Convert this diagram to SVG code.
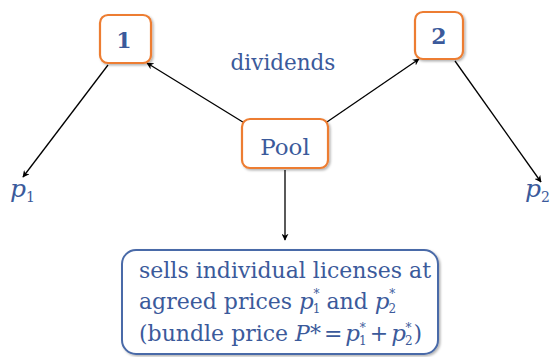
<svg xmlns="http://www.w3.org/2000/svg" width="553" height="357" viewBox="0 0 553 357">
<defs>
<marker id="ah" viewBox="0 0 10 10" refX="9" refY="5" markerWidth="7" markerHeight="7" orient="auto" markerUnits="userSpaceOnUse">
<path d="M0,0 L10,5 L0,10 L3,5 Z" fill="#000"/>
</marker>
<filter id="sh" x="-20%" y="-20%" width="140%" height="140%">
<feDropShadow dx="1.5" dy="1.5" stdDeviation="1.2" flood-color="#000" flood-opacity="0.3"/>
</filter>
</defs>
<style>
.ob{fill:#fff;stroke:#ed7d31;stroke-width:2.2;filter:url(#sh)}
.bb{fill:#fff;stroke:#4a6aa8;stroke-width:2;filter:url(#sh)}
.t{font-family:"DejaVu Serif","Liberation Serif",serif;fill:#3b5a9b}
.c{stroke:#000;stroke-width:1.3;fill:none;marker-end:url(#ah)}
</style>
<rect width="553" height="357" fill="#fff"/>
<g id="connectors">
<line class="c" x1="246" y1="124" x2="147" y2="63"/>
<line class="c" x1="324" y1="124" x2="419" y2="59"/>
<line class="c" x1="108" y1="65" x2="23" y2="177"/>
<line class="c" x1="455" y1="61" x2="541" y2="182"/>
<line class="c" x1="285" y1="170" x2="285" y2="240"/>
</g>
<g id="n1">
<rect class="ob" x="100" y="15" width="51" height="48" rx="8"/>
<text class="t" x="124" y="48" font-size="22" font-weight="bold" text-anchor="middle">1</text>
</g>
<g id="n2">
<rect class="ob" x="415" y="12" width="48" height="47" rx="8"/>
<text class="t" x="439" y="44" font-size="22" font-weight="bold" text-anchor="middle">2</text>
</g>
<g id="pool">
<rect class="ob" x="242" y="119" width="86" height="49" rx="8"/>
<text class="t" x="285" y="155" font-size="23" text-anchor="middle">Pool</text>
</g>
<g id="dividends">
<text class="t" x="283" y="70" font-size="21.5" text-anchor="middle">dividends</text>
</g>
<g id="p1">
<text class="t" x="10" y="197" font-size="25" font-style="italic">p<tspan font-size="14" font-style="normal" dy="5">1</tspan></text>
</g>
<g id="p2">
<text class="t" x="525" y="197" font-size="25" font-style="italic">p<tspan font-size="14" font-style="normal" dy="5">2</tspan></text>
</g>
<g id="sells">
<rect class="bb" x="122" y="250" width="316" height="104" rx="14"/>
<text class="t" x="139" y="278" font-size="22">sells individual licenses at</text>
<text class="t" x="139" y="309" font-size="22">agreed prices <tspan font-style="italic" font-size="23">p</tspan><tspan font-size="12" dy="4" dx="-1">1</tspan><tspan font-size="12" dx="-7" dy="-15">*</tspan><tspan dy="11"> and </tspan><tspan font-style="italic" font-size="23">p</tspan><tspan font-size="12" dy="4" dx="-1">2</tspan><tspan font-size="12" dx="-7" dy="-15">*</tspan></text>
<text class="t" x="139" y="341" font-size="22">(bundle price  <tspan font-style="italic">P</tspan>*<tspan dx="3">=</tspan><tspan font-style="italic" font-size="23" dx="3">p</tspan><tspan font-size="12" dy="4" dx="-1">1</tspan><tspan font-size="12" dx="-7" dy="-13">*</tspan><tspan dy="9" dx="4">+</tspan><tspan font-style="italic" font-size="23" dx="3">p</tspan><tspan font-size="12" dy="4" dx="-1">2</tspan><tspan font-size="12" dx="-7" dy="-13">*</tspan><tspan dy="9" dx="2">)</tspan></text>
</g>
</svg>
